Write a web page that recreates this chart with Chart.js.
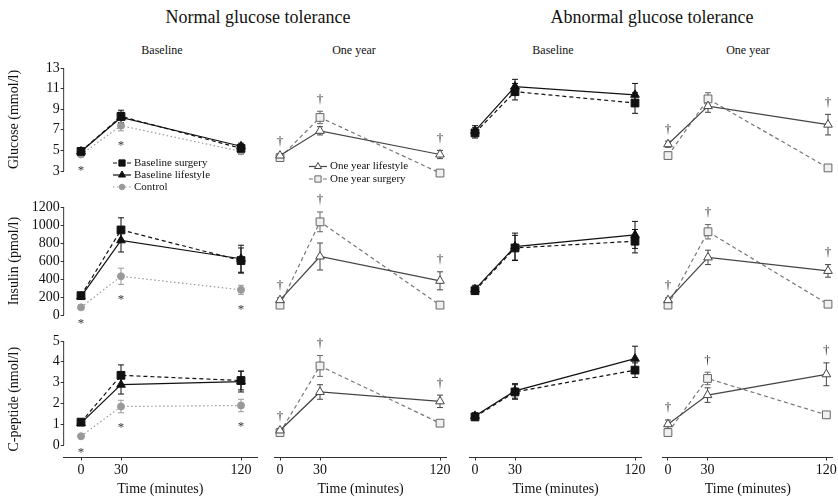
<!DOCTYPE html>
<html>
<head>
<meta charset="utf-8">
<script src="https://cdn.jsdelivr.net/npm/chart.js"></script>
<style>
  body { margin: 0; background: #fff; }
  #wrap { position: relative; width: 838px; height: 502px; overflow: hidden; font-family: "Liberation Serif", "DejaVu Serif", serif; color: #111; }
  #wrap canvas { position: absolute; left: 0; top: 0; }
  .lbl { position: absolute; white-space: nowrap; line-height: 1; transform: translate(-50%, -50%); }
  .head { font-size: 18px; }
  .sub { font-size: 12px; }
</style>
</head>
<body>
<div id="wrap">
  <div class="lbl head" style="left:258px; top:17px">Normal glucose tolerance</div>
  <div class="lbl head" style="left:652px; top:17px">Abnormal glucose tolerance</div>
  <div class="lbl sub" style="left:162px; top:50px">Baseline</div>
  <div class="lbl sub" style="left:354px; top:50px">One year</div>
  <div class="lbl sub" style="left:553px; top:50px">Baseline</div>
  <div class="lbl sub" style="left:748px; top:50px">One year</div>
</div>
<script>
// --- data ---
const times = [0, 30, 120];
const timeTicks = [0, 30, 120];
const glucoseTicks = [3, 5, 7, 9, 11, 13];
const insulinTicks = [0, 200, 400, 600, 800, 1000, 1200];
const cpeptideTicks = [0, 1, 2, 3, 4, 5];

// glucose (mmol/l), mean and error
const gluNgtBaseSurgery = [4.9, 8.3, 5.2];
const gluNgtBaseSurgeryErr = [0.2, 0.6, 0.3];
const gluNgtBaseLifestyle = [4.9, 8.2, 5.4];
const gluNgtBaseLifestyleErr = [0.2, 0.5, 0.3];
const gluControl = [4.6, 7.4, 4.9];
const gluControlErr = [0.15, 0.5, 0.3];
const gluNgtYearLifestyle = [4.5, 6.9, 4.6];
const gluNgtYearLifestyleErr = [0.2, 0.4, 0.4];
const gluNgtYearSurgery = [4.3, 8.2, 2.8];
const gluNgtYearSurgeryErr = [0.2, 0.6, 0.15];
const gluAgtBaseSurgery = [6.7, 10.7, 9.6];
const gluAgtBaseSurgeryErr = [0.5, 0.8, 1.0];
const gluAgtBaseLifestyle = [6.9, 11.2, 10.4];
const gluAgtBaseLifestyleErr = [0.5, 0.7, 1.1];
const gluAgtYearLifestyle = [5.6, 9.3, 7.5];
const gluAgtYearLifestyleErr = [0.3, 0.6, 1.0];
const gluAgtYearSurgery = [4.5, 10.0, 3.3];
const gluAgtYearSurgeryErr = [0.15, 0.6, 0.2];

// insulin (pmol/l)
const insNgtBaseSurgery = [215, 945, 605];
const insNgtBaseSurgeryErr = [30, 135, 140];
const insNgtBaseLifestyle = [205, 830, 625];
const insNgtBaseLifestyleErr = [30, 130, 150];
const insControl = [85, 430, 280];
const insControlErr = [15, 90, 50];
const insNgtYearLifestyle = [165, 650, 380];
const insNgtYearLifestyleErr = [25, 150, 100];
const insNgtYearSurgery = [110, 1035, 110];
const insNgtYearSurgeryErr = [10, 110, 15];
const insAgtBaseSurgery = [270, 745, 820];
const insAgtBaseSurgeryErr = [40, 140, 130];
const insAgtBaseLifestyle = [285, 760, 890];
const insAgtBaseLifestyleErr = [45, 150, 150];
const insAgtYearLifestyle = [165, 640, 490];
const insAgtYearLifestyleErr = [25, 80, 70];
const insAgtYearSurgery = [110, 925, 120];
const insAgtYearSurgeryErr = [15, 80, 15];

// C-peptide (nmol/l)
const cpNgtBaseSurgery = [1.1, 3.35, 3.1];
const cpNgtBaseSurgeryErr = [0.1, 0.5, 0.45];
const cpNgtBaseLifestyle = [1.05, 2.9, 3.05];
const cpNgtBaseLifestyleErr = [0.1, 0.45, 0.5];
const cpControl = [0.42, 1.85, 1.9];
const cpControlErr = [0.05, 0.3, 0.3];
const cpNgtYearLifestyle = [0.7, 2.55, 2.1];
const cpNgtYearLifestyleErr = [0.1, 0.35, 0.3];
const cpNgtYearSurgery = [0.6, 3.8, 1.05];
const cpNgtYearSurgeryErr = [0.05, 0.5, 0.12];
const cpAgtBaseSurgery = [1.35, 2.55, 3.6];
const cpAgtBaseSurgeryErr = [0.15, 0.35, 0.35];
const cpAgtBaseLifestyle = [1.4, 2.6, 4.15];
const cpAgtBaseLifestyleErr = [0.15, 0.35, 0.6];
const cpAgtYearLifestyle = [1.0, 2.4, 3.4];
const cpAgtYearLifestyleErr = [0.2, 0.35, 0.55];
const cpAgtYearSurgery = [0.6, 3.2, 1.45];
const cpAgtYearSurgeryErr = [0.05, 0.3, 0.15];

// time points with a significant difference
const gluStars = [0, 30];          // control vs baseline (*)
const insStars = [0, 30, 120];
const cpStars = [0, 30, 120];
const gluNgtDaggers = [0, 30, 120]; // one year surgery vs lifestyle (†)
const gluAgtDaggers = [0, 120];
const insNgtDaggers = [0, 30, 120];
const insAgtDaggers = [0, 30, 120];
const cpNgtDaggers = [0, 30, 120];
const cpAgtDaggers = [0, 30, 120];

// --- styles ---
const serif = '"Liberation Serif", "DejaVu Serif", serif';
const styles = {
  baseSurgery: { borderColor: '#111', borderDash: [4, 3], pointStyle: 'rect', pointRadius: 5.5, pointBackgroundColor: '#111', pointBorderColor: '#111' },
  baseLifestyle: { borderColor: '#111', borderDash: [], pointStyle: 'triangle', pointRadius: 5, pointBackgroundColor: '#111', pointBorderColor: '#111' },
  control: { borderColor: '#999', borderDash: [1.5, 2.5], pointStyle: 'circle', pointRadius: 3.5, pointBackgroundColor: '#999', pointBorderColor: '#999' },
  yearLifestyle: { borderColor: '#444', borderDash: [], pointStyle: 'triangle', pointRadius: 5, pointBackgroundColor: '#fff', pointBorderColor: '#444' },
  yearSurgery: { borderColor: '#777', borderDash: [4, 3], pointStyle: 'rect', pointRadius: 5.5, pointBackgroundColor: '#f0f0f0', pointBorderColor: '#666' }
};

const rows = [
  { title: 'Glucose (mmol/l)', ticks: glucoseTicks, min: 3, max: 13, top: 68, bottom: 171 },
  { title: 'Insulin (pmol/l)', ticks: insulinTicks, min: 0, max: 1200, top: 207, bottom: 315 },
  { title: 'C-peptide (nmol/l)', ticks: cpeptideTicks, min: -0.6, max: 5, top: 341, bottom: 457.5 }
];
const cols = [
  { zero: 81, min: -13, max: 132 },
  { zero: 280, min: -4, max: 125 },
  { zero: 475, min: -4, max: 125 },
  { zero: 668, min: -4, max: 125 }
];
const pxPerMinute = 160 / 120;
const W = 838, H = 502;
const yAxisWidth = 58;

const S = (label, values, errors, style) => ({ label, values, errors, style });
const panels = [
  { row: 0, col: 0, stars: gluStars, legend: { left: 122, top: 163, step: 12 }, series: [
    S('Baseline surgery', gluNgtBaseSurgery, gluNgtBaseSurgeryErr, 'baseSurgery'),
    S('Baseline lifestyle', gluNgtBaseLifestyle, gluNgtBaseLifestyleErr, 'baseLifestyle'),
    S('Control', gluControl, gluControlErr, 'control')] },
  { row: 0, col: 1, daggers: gluNgtDaggers, legend: { left: 318, top: 166.5, step: 12.5 }, series: [
    S('One year lifestyle', gluNgtYearLifestyle, gluNgtYearLifestyleErr, 'yearLifestyle'),
    S('One year surgery', gluNgtYearSurgery, gluNgtYearSurgeryErr, 'yearSurgery')] },
  { row: 0, col: 2, series: [
    S('Baseline surgery', gluAgtBaseSurgery, gluAgtBaseSurgeryErr, 'baseSurgery'),
    S('Baseline lifestyle', gluAgtBaseLifestyle, gluAgtBaseLifestyleErr, 'baseLifestyle')] },
  { row: 0, col: 3, daggers: gluAgtDaggers, series: [
    S('One year lifestyle', gluAgtYearLifestyle, gluAgtYearLifestyleErr, 'yearLifestyle'),
    S('One year surgery', gluAgtYearSurgery, gluAgtYearSurgeryErr, 'yearSurgery')] },

  { row: 1, col: 0, stars: insStars, series: [
    S('Baseline surgery', insNgtBaseSurgery, insNgtBaseSurgeryErr, 'baseSurgery'),
    S('Baseline lifestyle', insNgtBaseLifestyle, insNgtBaseLifestyleErr, 'baseLifestyle'),
    S('Control', insControl, insControlErr, 'control')] },
  { row: 1, col: 1, daggers: insNgtDaggers, series: [
    S('One year lifestyle', insNgtYearLifestyle, insNgtYearLifestyleErr, 'yearLifestyle'),
    S('One year surgery', insNgtYearSurgery, insNgtYearSurgeryErr, 'yearSurgery')] },
  { row: 1, col: 2, series: [
    S('Baseline surgery', insAgtBaseSurgery, insAgtBaseSurgeryErr, 'baseSurgery'),
    S('Baseline lifestyle', insAgtBaseLifestyle, insAgtBaseLifestyleErr, 'baseLifestyle')] },
  { row: 1, col: 3, daggers: insAgtDaggers, series: [
    S('One year lifestyle', insAgtYearLifestyle, insAgtYearLifestyleErr, 'yearLifestyle'),
    S('One year surgery', insAgtYearSurgery, insAgtYearSurgeryErr, 'yearSurgery')] },

  { row: 2, col: 0, stars: cpStars, series: [
    S('Baseline surgery', cpNgtBaseSurgery, cpNgtBaseSurgeryErr, 'baseSurgery'),
    S('Baseline lifestyle', cpNgtBaseLifestyle, cpNgtBaseLifestyleErr, 'baseLifestyle'),
    S('Control', cpControl, cpControlErr, 'control')] },
  { row: 2, col: 1, daggers: cpNgtDaggers, series: [
    S('One year lifestyle', cpNgtYearLifestyle, cpNgtYearLifestyleErr, 'yearLifestyle'),
    S('One year surgery', cpNgtYearSurgery, cpNgtYearSurgeryErr, 'yearSurgery')] },
  { row: 2, col: 2, series: [
    S('Baseline surgery', cpAgtBaseSurgery, cpAgtBaseSurgeryErr, 'baseSurgery'),
    S('Baseline lifestyle', cpAgtBaseLifestyle, cpAgtBaseLifestyleErr, 'baseLifestyle')] },
  { row: 2, col: 3, daggers: cpAgtDaggers, series: [
    S('One year lifestyle', cpAgtYearLifestyle, cpAgtYearLifestyleErr, 'yearLifestyle'),
    S('One year surgery', cpAgtYearSurgery, cpAgtYearSurgeryErr, 'yearSurgery')] }
];

// --- plugins ---
const errorBars = {
  id: 'errorBars',
  beforeDatasetsDraw(chart) {
    const { ctx, scales: { x, y } } = chart;
    chart.data.datasets.forEach(ds => {
      ctx.save();
      ctx.strokeStyle = ds.pointBorderColor;
      ctx.lineWidth = 1;
      ds.data.forEach((p, j) => {
        const e = ds.errors[j];
        const px = x.getPixelForValue(p.x);
        const top = y.getPixelForValue(p.y + e);
        const bot = y.getPixelForValue(p.y - e);
        ctx.beginPath();
        ctx.moveTo(px, top); ctx.lineTo(px, bot);
        ctx.moveTo(px - 3, top); ctx.lineTo(px + 3, top);
        ctx.moveTo(px - 3, bot); ctx.lineTo(px + 3, bot);
        ctx.stroke();
      });
      ctx.restore();
    });
  }
};

const yAxisLine = {
  id: 'yAxisLine',
  afterDraw(chart) {
    const y = chart.scales.y;
    if (!y.options.display) return;
    const { ctx, chartArea } = chart;
    ctx.save();
    ctx.strokeStyle = '#333';
    ctx.lineWidth = 1;
    ctx.beginPath();
    ctx.moveTo(chartArea.left, y.getPixelForValue(y.ticks[0].value));
    ctx.lineTo(chartArea.left, y.getPixelForValue(y.ticks[y.ticks.length - 1].value));
    ctx.stroke();
    ctx.restore();
  }
};

// * below the control group, † above the one-year groups
const sigMarks = {
  id: 'sigMarks',
  afterDatasetsDraw(chart, args, opts) {
    const { ctx, scales: { x, y } } = chart;
    ctx.save();
    ctx.fillStyle = '#333';
    ctx.font = '13px ' + serif;
    ctx.textAlign = 'center';
    ctx.textBaseline = 'middle';
    const at = t => times.indexOf(t);
    (opts.stars || []).forEach(t => {
      const ds = chart.data.datasets[chart.data.datasets.length - 1];
      const j = at(t);
      const py = y.getPixelForValue(ds.data[j].y - ds.errors[j]);
      ctx.fillText('*', x.getPixelForValue(t), py + 15);
    });
    (opts.daggers || []).forEach(t => {
      const j = at(t);
      const tops = chart.data.datasets.map(ds => y.getPixelForValue(ds.data[j].y + ds.errors[j]));
      ctx.fillText('\u2020', x.getPixelForValue(t), Math.min(...tops) - 12);
    });
    ctx.restore();
  }
};

const panelLegend = {
  id: 'panelLegend',
  afterDraw(chart, args, opts) {
    if (!opts.show) return;
    const ctx = chart.ctx;
    chart.data.datasets.forEach((ds, i) => {
      const cx = opts.left, cy = opts.top + i * opts.step;
      ctx.save();
      ctx.strokeStyle = ds.borderColor;
      ctx.lineWidth = 1.2;
      ctx.setLineDash(ds.borderDash);
      ctx.beginPath(); ctx.moveTo(cx - 9, cy); ctx.lineTo(cx + 9, cy); ctx.stroke();
      ctx.setLineDash([]);
      ctx.fillStyle = ds.pointBackgroundColor;
      ctx.strokeStyle = ds.pointBorderColor;
      ctx.lineWidth = 1;
      Chart.helpers.drawPoint(ctx, { pointStyle: ds.pointStyle, radius: ds.pointRadius * 0.8, borderWidth: 1, rotation: 0 }, cx, cy);
      ctx.fillStyle = '#111';
      ctx.font = '11px ' + serif;
      ctx.textBaseline = 'middle';
      ctx.fillText(ds.label, cx + 12, cy);
      ctx.restore();
    });
  }
};

// --- build one chart per panel, all stacked on the same page area ---
const wrap = document.getElementById('wrap');
panels.forEach(p => {
  const row = rows[p.row], col = cols[p.col];
  const left = col.zero + col.min * pxPerMinute;
  const right = col.zero + col.max * pxPerMinute;
  const showY = p.col === 0, showX = p.row === 2;
  const xAxisHeight = H - row.bottom;

  const canvas = document.createElement('canvas');
  canvas.width = W; canvas.height = H;
  wrap.appendChild(canvas);

  new Chart(canvas.getContext('2d'), {
    type: 'line',
    data: {
      datasets: p.series.map(s => Object.assign({
        label: s.label,
        data: times.map((t, i) => ({ x: t, y: s.values[i] })),
        errors: s.errors,
        borderWidth: 1.2,
        pointBorderWidth: 1,
        tension: 0,
        clip: false
      }, styles[s.style]))
    },
    options: {
      responsive: false,
      animation: false,
      devicePixelRatio: 1,
      events: [],
      layout: {
        autoPadding: false,
        padding: {
          left: left - (showY ? yAxisWidth : 0),
          right: W - right,
          top: row.top,
          bottom: showX ? 0 : H - row.bottom
        }
      },
      scales: {
        x: {
          type: 'linear', min: col.min, max: col.max,
          display: showX,
          afterBuildTicks: s => { s.ticks = timeTicks.map(v => ({ value: v })); },
          afterFit: s => { s.height = showX ? xAxisHeight : 0; },
          border: { display: true, color: '#333', width: 1 },
          grid: { drawOnChartArea: false, tickLength: 3, color: '#333' },
          ticks: { color: '#111', font: { family: serif, size: 14 }, padding: 1, maxRotation: 0, autoSkip: false, callback: v => String(v) },
          title: { display: true, text: 'Time (minutes)', color: '#111', font: { family: serif, size: 14 }, padding: { top: 0, bottom: 4 } }
        },
        y: {
          type: 'linear', min: row.min, max: row.max,
          display: showY,
          afterBuildTicks: s => { s.ticks = row.ticks.map(v => ({ value: v })); },
          afterFit: s => { s.width = showY ? yAxisWidth : 0; },
          border: { display: false },
          grid: { drawOnChartArea: false, tickLength: 3, color: '#333' },
          ticks: { color: '#111', font: { family: serif, size: 14 }, padding: 1, autoSkip: false, callback: v => String(v) },
          title: { display: true, text: row.title, color: '#111', font: { family: serif, size: 14 }, padding: 0 }
        }
      },
      plugins: {
        legend: { display: false },
        tooltip: { enabled: false },
        sigMarks: { stars: p.stars, daggers: p.daggers },
        panelLegend: p.legend ? Object.assign({ show: true }, p.legend) : { show: false }
      }
    },
    plugins: [errorBars, yAxisLine, sigMarks, panelLegend]
  });
});
</script>
</body>
</html>
